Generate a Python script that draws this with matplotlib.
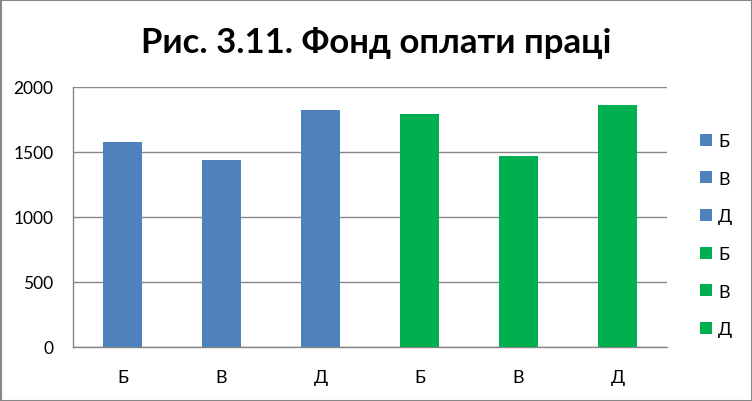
import matplotlib
matplotlib.use("Agg")
import matplotlib.pyplot as plt
from matplotlib.patches import Patch, Rectangle

title = "Рис. 3.11. Фонд оплати праці"
categories = ["Б", "В", "Д", "Б", "В", "Д"]
values_blue = [1580, 1435, 1820]
values_green = [1790, 1472, 1858]
y_ticks = [0, 500, 1000, 1500, 2000]

blue = "#4F81BD"
green = "#00B050"
grid_c = "#868686"

plt.rcParams["font.family"] = ["Lato", "DejaVu Sans"]

fig = plt.figure(figsize=(7.52, 4.02), dpi=100)
ax = fig.add_axes([73 / 752, 1 - 348 / 402, (667 - 73) / 752, (348 - 88) / 402])

values = values_blue + values_green
colors = [blue] * len(values_blue) + [green] * len(values_green)
xs = list(range(len(categories)))
ax.bar(xs, values, width=0.4, color=colors, zorder=3)

ax.set_xlim(-0.5, len(categories) - 0.5)
ax.set_ylim(0, 2000)
ax.set_yticks(y_ticks)
ax.set_yticklabels([str(v) for v in y_ticks], fontsize=12.5)
ax.set_xticks(xs)
ax.set_xticklabels(categories, fontsize=13)
ax.tick_params(axis="both", length=0, colors="black")
ax.tick_params(axis="y", pad=14)
ax.tick_params(axis="x", pad=16)
ax.yaxis.grid(True, color=grid_c, linewidth=1, zorder=0)
for s in ["top", "right"]:
    ax.spines[s].set_visible(False)
for s in ["left", "bottom"]:
    ax.spines[s].set_color(grid_c)
    ax.spines[s].set_linewidth(1)

handles = [Patch(facecolor=c, edgecolor="none") for c in colors]
leg = fig.legend(handles, categories, loc="upper left",
                 bbox_to_anchor=(700 / 752, 1 - 134 / 402),
                 frameon=False, fontsize=13, handlelength=0.66, handleheight=0.66,
                 handletextpad=0.35, labelspacing=1.2, borderaxespad=0, borderpad=0)

fig.text(0.5, 1 - 43 / 402, title, ha="center", va="center",
         fontsize=25, fontweight="bold")

fig.patches.append(Rectangle((0.5 / 752, 0.5 / 402), 1 - 1 / 752, 1 - 1 / 402,
                             transform=fig.transFigure, fill=False,
                             edgecolor=grid_c, linewidth=1.5))

fig.savefig("out.png", dpi=100)
